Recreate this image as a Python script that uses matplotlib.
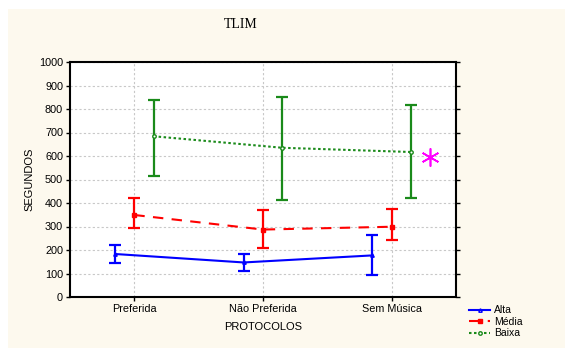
import matplotlib.pyplot as plt
import matplotlib.patches as patches
import numpy as np

categories = ['Preferida', 'Não Preferida', 'Sem Música']
series_names = ['Alta', 'Média', 'Baixa']

alta_mean = [183, 147, 177]
alta_low = [145, 112, 95]
alta_high = [221, 182, 264]

media_mean = [349, 287, 299]
media_low = [292, 207, 241]
media_high = [420, 369, 373]

baixa_mean = [684, 635, 617]
baixa_low = [516, 413, 421]
baixa_high = [840, 850, 817]

y_ticks = [0, 100, 200, 300, 400, 500, 600, 700, 800, 900, 1000]

fig = plt.figure(figsize=(5.65, 3.49), dpi=100)
fig.patch.set_facecolor('white')
# cream panel behind everything
fig.patches.append(patches.Rectangle((8 / 565, 1 / 349), 1 - 8 / 565, 1 - 10 / 349,
                                     transform=fig.transFigure, facecolor='#fdf9ee',
                                     edgecolor='none', zorder=-10))

ax = fig.add_axes([70 / 565, 1 - 297 / 349, 386 / 565, 235 / 349])
ax.set_facecolor('white')

x = np.arange(1, 4)
styles = [
    (alta_mean, alta_low, alta_high, -0.15, '#0000ff', '-', '^', 2.5, 'none'),
    (media_mean, media_low, media_high, 0.0, '#ff0000', (0, (5, 4)), 's', 3.5, None),
    (baixa_mean, baixa_low, baixa_high, 0.15, '#1a8a1a', (0, (1.2, 1.2)), 'o', 2.5, 'white'),
]
for name, (mean, low, high, off, col, ls, mk, ms, mfc) in zip(series_names, styles):
    mean = np.array(mean)
    err = [mean - np.array(low), np.array(high) - mean]
    ax.errorbar(x + off, mean, yerr=err, fmt='none', ecolor=col, elinewidth=1.6,
                capsize=4.5, capthick=1.6, zorder=3)
    ax.plot(x + off, mean, color=col, linestyle=ls, linewidth=1.5, marker=mk,
            markersize=ms, markerfacecolor=mfc if mfc else col, markeredgecolor=col,
            markeredgewidth=1, label=name, zorder=4)

# significance mark
ax.plot([3.3], [596], marker=(6, 2, 0), markersize=13, markeredgewidth=1.2,
        color='#ff00ff', clip_on=False, zorder=5)

ax.set_xlim(0.5, 3.5)
ax.set_ylim(0, 1000)
ax.set_xticks(x)
ax.set_xticklabels(categories, family='Liberation Sans', fontsize=7.8)
ax.set_yticks(y_ticks)
ax.set_yticklabels([str(v) for v in y_ticks], family='Liberation Sans', fontsize=7.8)
ax.grid(True, color='#c8c8c8', linestyle=(0, (2, 2)), linewidth=0.8)
ax.set_axisbelow(True)
for sp in ax.spines.values():
    sp.set_linewidth(1.5)
ax.tick_params(axis='both', direction='out', length=3, width=1, pad=2)
ax.tick_params(axis='y', right=True, labelright=False)

ax.set_xlabel('PROTOCOLOS', family='Liberation Sans', fontsize=8, labelpad=6)
ax.set_ylabel('SEGUNDOS', family='Liberation Sans', fontsize=8, labelpad=3)
fig.text(241 / 565, 1 - 25 / 349, 'TLIM', family='Liberation Serif', fontsize=10,
         ha='center', va='center')

handles, labels = ax.get_legend_handles_labels()
fig.legend(handles, labels, loc='upper left', bbox_to_anchor=(465 / 565, 1 - 301 / 349),
           frameon=False, prop={'family': 'Liberation Sans', 'size': 7.5},
           handlelength=2.0, handletextpad=0.4, labelspacing=0.15, borderaxespad=0)

fig.savefig('out.png', dpi=100)
